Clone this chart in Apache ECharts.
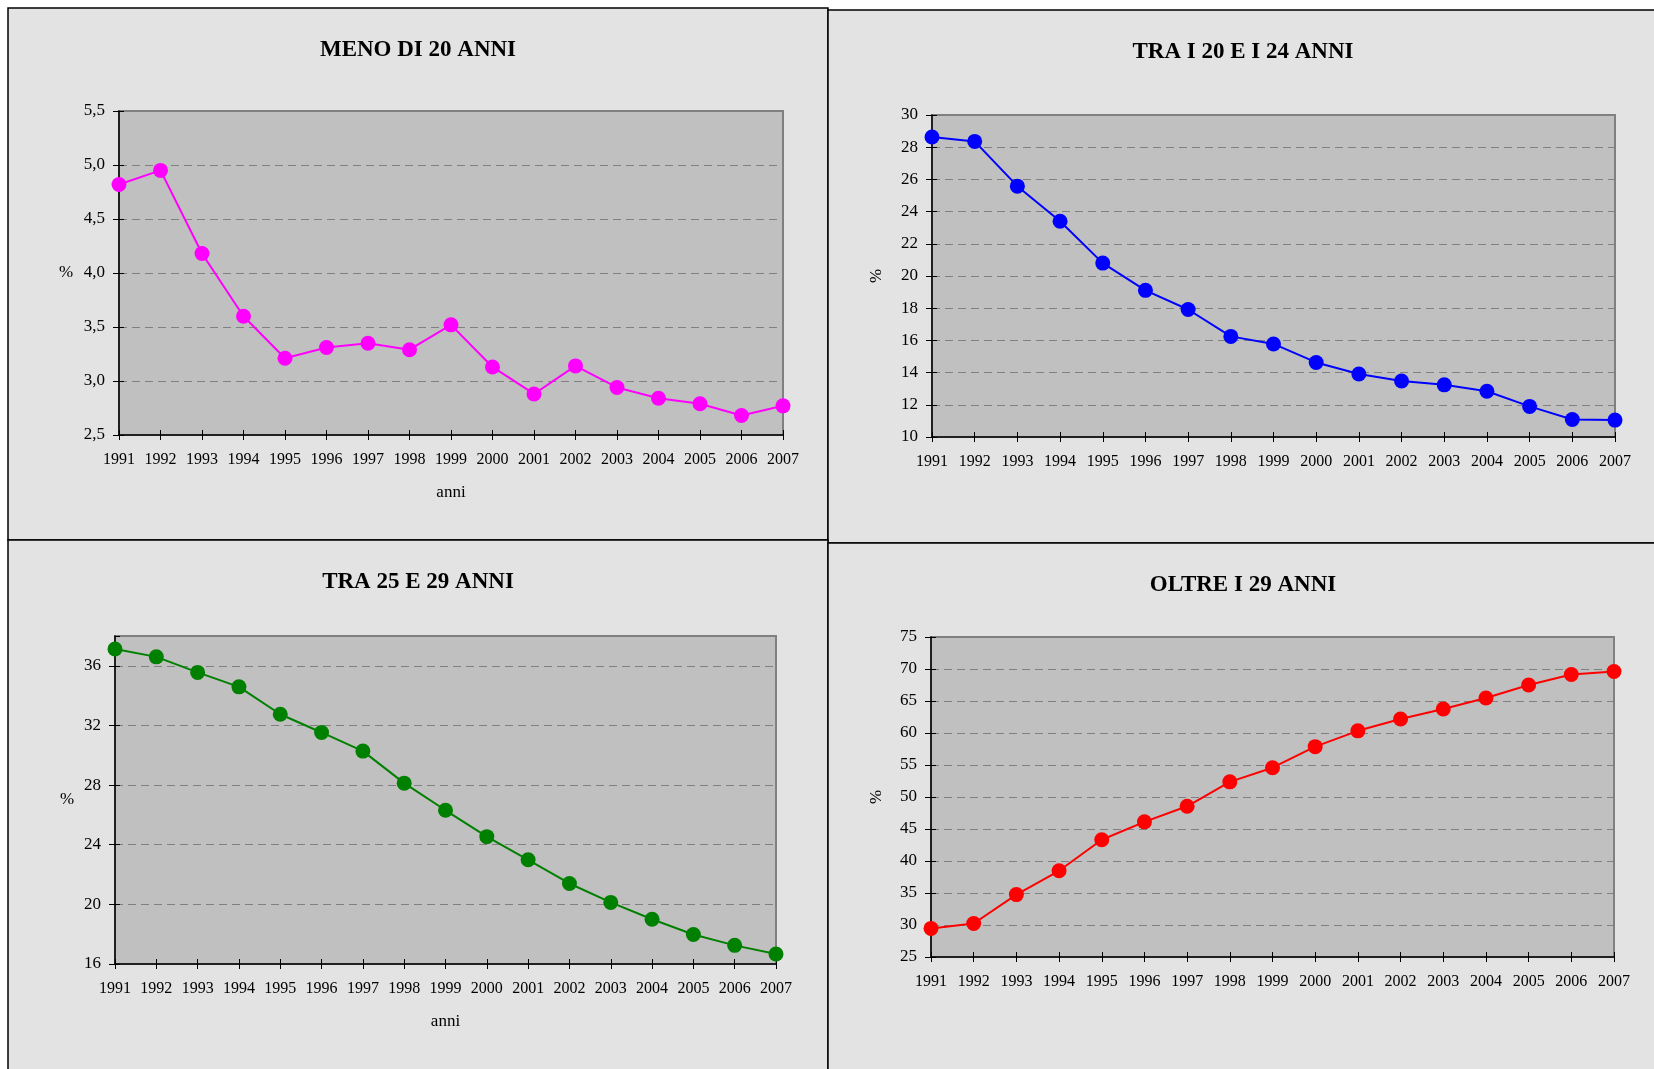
<!DOCTYPE html>
<html>
<head>
<meta charset="utf-8">
<script src="https://cdn.jsdelivr.net/npm/echarts@6/dist/echarts.min.js"></script>
<style>
html,body{margin:0;padding:0;background:#ffffff;}
#c{width:1654px;height:1069px;}
</style>
</head>
<body>
<div id="c"></div>
<script>
const years = ['1991','1992','1993','1994','1995','1996','1997','1998','1999','2000','2001','2002','2003','2004','2005','2006','2007'];
const meno20 = [4.82,4.95,4.18,3.60,3.21,3.31,3.35,3.29,3.52,3.13,2.88,3.14,2.94,2.84,2.79,2.68,2.77];
const tra20e24 = [28.63,28.36,25.58,23.40,20.80,19.11,17.92,16.25,15.78,14.63,13.91,13.48,13.24,12.84,11.90,11.09,11.05];
const tra25e29 = [37.13,36.60,35.56,34.59,32.75,31.53,30.28,28.13,26.31,24.54,22.99,21.40,20.13,19.00,17.98,17.25,16.67];
const oltre29 = [29.47,30.23,34.75,38.47,43.32,46.12,48.55,52.37,54.58,57.87,60.34,62.18,63.74,65.46,67.51,69.13,69.61];
const titles = ['MENO DI 20 ANNI','TRA I 20 E I 24 ANNI','TRA 25 E 29 ANNI','OLTRE I 29 ANNI'];
const yMin = [2.5, 10, 16, 25];
const yMax = [5.5, 30, 38, 75];
const yStep = [0.5, 2, 4, 5];
const yName = '%';
const xName = 'anni';

const FONT = 'Liberation Serif';
const colors = ['#ff00ff','#0000ff','#008000','#ff0000'];
const seriesData = [meno20, tra20e24, tra25e29, oltre29];
const grids = [
  {left:119, top:111, width:664, height:324},
  {left:932, top:115, width:683, height:322},
  {left:115, top:636, width:661, height:328},
  {left:931, top:637, width:683, height:320}
];
const titlePos = [[418,39],[1243,41],[418,571],[1243,574]];
const showXName = [true,false,true,false];
const yNameRot = [0,90,0,90];
const yNameGap = [53,55,48,54];

const option = {
  backgroundColor:'#ffffff',
  animation:false,
  graphic:[
    {type:'rect', z:-10, shape:{x:8,y:8,width:820,height:532}, style:{fill:'#e3e3e3', stroke:'#000', lineWidth:1.5}},
    {type:'rect', z:-10, shape:{x:828,y:10,width:840,height:533}, style:{fill:'#e3e3e3', stroke:'#000', lineWidth:1.5}},
    {type:'rect', z:-10, shape:{x:8,y:540,width:820,height:540}, style:{fill:'#e3e3e3', stroke:'#000', lineWidth:1.5}},
    {type:'rect', z:-10, shape:{x:828,y:543,width:840,height:540}, style:{fill:'#e3e3e3', stroke:'#000', lineWidth:1.5}}
  ],
  title: titles.map((t,i)=>({
    text:t, left:titlePos[i][0], top:titlePos[i][1], textAlign:'center', padding:0,
    textStyle:{fontFamily:FONT, fontWeight:'bold', fontSize:23, color:'#000'}
  })),
  grid: grids.map(g=>Object.assign({show:true, backgroundColor:'#c0c0c0', borderColor:'#808080', borderWidth:2}, g)),
  xAxis: [],
  yAxis: [],
  series: []
};

for (let i=0;i<4;i++){
  option.xAxis.push({
    type:'category', gridIndex:i, data:years, boundaryGap:false, position:'bottom',
    name: showXName[i] ? xName : '', nameLocation:'middle', nameGap:58,
    nameTextStyle:{fontFamily:FONT, fontSize:17, color:'#000', verticalAlign:'middle'},
    axisLine:{show:true, lineStyle:{color:'#000', width:1.5}},
    axisTick:{show:true, inside:false, length:5, alignWithLabel:true, interval:0, lineStyle:{color:'#000', width:1}},
    axisLabel:{interval:0, margin:17, fontFamily:FONT, fontSize:16, color:'#000'},
    splitLine:{show:false}
  });
  option.xAxis.push({
    type:'category', gridIndex:i, data:years, boundaryGap:false, position:'bottom',
    axisLine:{show:false},
    axisTick:{show:true, inside:true, length:5, interval:0, lineStyle:{color:'#000', width:1}},
    axisLabel:{show:false}, splitLine:{show:false}
  });
  const fmt = i===0 ? (v=>v.toFixed(1).replace('.', ',')) : (v=>String(v));
  option.yAxis.push({
    type:'value', gridIndex:i, position:'left', min:yMin[i], max:yMax[i], interval:yStep[i],
    name:yName, nameLocation:'middle', nameGap:yNameGap[i], nameRotate:yNameRot[i],
    nameTextStyle:{fontFamily:FONT, fontSize:17, color:'#000', align:'center', verticalAlign:'middle'},
    axisLine:{show:true, lineStyle:{color:'#000', width:1.5}},
    axisTick:{show:true, inside:false, length:6, lineStyle:{color:'#000', width:1}},
    axisLabel:{margin:14, fontFamily:FONT, fontSize:17, color:'#000', formatter:fmt, showMaxLabel: i===2 ? false : true},
    splitLine:{show:true, lineStyle:{color:'#808080', width:1, type:[8,5]}}
  });
  option.yAxis.push({
    type:'value', gridIndex:i, position:'left', min:yMin[i], max:yMax[i], interval:yStep[i],
    axisLine:{show:false},
    axisTick:{show:true, inside:true, length:5, lineStyle:{color:'#000', width:1}},
    axisLabel:{show:false}, splitLine:{show:false}
  });
  option.series.push({
    type:'line', xAxisIndex:2*i, yAxisIndex:2*i, data:seriesData[i],
    symbol:'circle', symbolSize:15, color:colors[i],
    lineStyle:{color:colors[i], width:2},
    itemStyle:{color:colors[i]}
  });
}

const chart = echarts.init(document.getElementById('c'), null, {renderer:'canvas'});
chart.setOption(option);
</script>
</body>
</html>
